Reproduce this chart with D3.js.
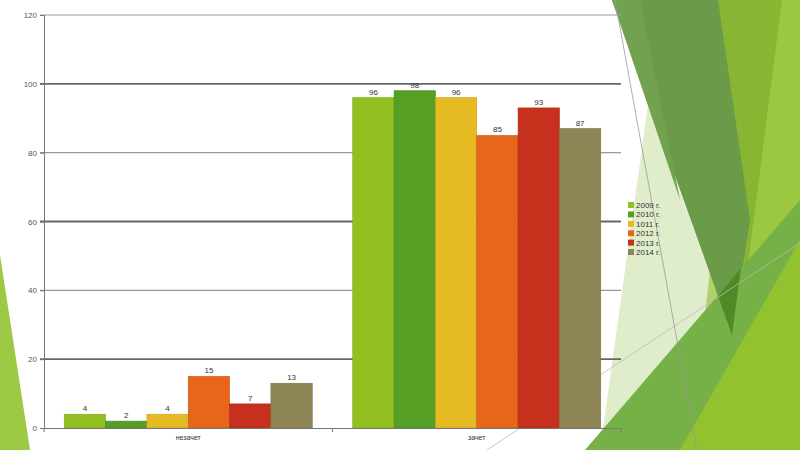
<!DOCTYPE html>
<meta charset="utf-8">
<head>
  <title>Зачет / незачет</title>
  <style>
    html, body { margin: 0; padding: 0; background: #fff; }
    svg { display: block; font-family: "Liberation Sans", Arial, sans-serif; }
  </style>
</head>
<body>
  <div class="container"></div>

<script src="https://cdnjs.cloudflare.com/ajax/libs/d3/7.8.5/d3.min.js"></script>
<script>
  // Chart data
  var categories = ["незачет", "зачет"];
  var years = ["2009 г.", "2010 г.", "1011 г.", "2012 г.", "2013 г.", "2014 г."];
  var failValues = [4, 2, 4, 15, 7, 13];
  var passValues = [96, 98, 96, 85, 93, 87];
  var yTicks = [0, 20, 40, 60, 80, 100, 120];
  var colors = ["#92c020", "#55a024", "#e6ba22", "#e8661b", "#c6301c", "#8e8657"];

  var width = 800, height = 450;
  var plotLeft = 44, plotRight = 621, plotTop = 15, plotBottom = 428;

  var svg = d3.select(".container").append("svg")
    .attr("width", width)
    .attr("height", height);

  // background decoration (theme shapes)
  var deco = svg.append("g");
  function shape(pts, fill, op) {
    deco.append("polygon")
      .attr("points", pts.map(function (p) { return p.join(","); }).join(" "))
      .attr("fill", fill)
      .attr("opacity", op || 1);
  }
  shape([[0, 255], [30, 450], [0, 450]], "#9dc843");
  shape([[740, 0], [800, 0], [800, 450], [690, 450]], "#9cc741");
  shape([[716, 0], [782, 0], [735, 365]], "#88b532");
  shape([[648, 105], [600, 450], [775, 450]], "#c2dc95", 0.5);
  shape([[612, 0], [718, 0], [750, 220], [732, 335]], "#6b9a49");
  shape([[612, 0], [640, 0], [680, 200]], "#72a150");
  shape([[585, 450], [800, 200], [800, 450]], "#76b148");
  shape([[680, 450], [800, 240], [800, 450]], "#93c22f");
  shape([[718, 296], [741, 268], [732, 335]], "#4e8a26");
  deco.append("line").attr("x1", 615).attr("y1", 0).attr("x2", 697).attr("y2", 450)
    .attr("stroke", "#999").attr("stroke-width", 0.8);
  deco.append("line").attr("x1", 487).attr("y1", 450).attr("x2", 800).attr("y2", 243)
    .attr("stroke", "#bbb").attr("stroke-width", 0.8);

  // scales
  var x0 = d3.scaleBand().domain(categories).range([plotLeft, plotRight]);
  var x1 = d3.scaleBand().domain(years).range([0, x0.bandwidth()]).paddingOuter(0.49);
  var y = d3.scaleLinear().domain([0, 120]).range([plotBottom, plotTop]);

  // grid lines
  svg.append("g").selectAll("line")
    .data(yTicks.slice(1))
    .enter().append("line")
    .attr("x1", plotLeft - 4).attr("x2", plotRight)
    .attr("y1", function (d) { return y(d); })
    .attr("y2", function (d) { return y(d); })
    .attr("stroke", function (d) { return d % 40 === 20 ? "#666" : "#999"; })
    .attr("stroke-width", function (d) { return d % 40 === 20 ? 1.8 : 1.1; });

  // y axis
  var yAxis = svg.append("g")
    .attr("transform", "translate(" + plotLeft + ",0)")
    .call(d3.axisLeft(y).tickValues(yTicks).tickSize(4).tickPadding(3));
  yAxis.select(".domain").attr("stroke", "#777");
  yAxis.selectAll(".tick line").attr("stroke", "#777");
  yAxis.selectAll("text").attr("font-size", 8).attr("fill", "#555");

  // bars
  var series = categories.map(function (c, i) {
    var vals = i === 0 ? failValues : passValues;
    return { cat: c, items: years.map(function (yr, j) { return { year: yr, value: vals[j], color: colors[j] }; }) };
  });

  var groups = svg.append("g").selectAll("g")
    .data(series)
    .enter().append("g")
    .attr("transform", function (d) { return "translate(" + x0(d.cat) + ",0)"; });

  groups.selectAll("rect")
    .data(function (d) { return d.items; })
    .enter().append("rect")
    .attr("x", function (d) { return x1(d.year); })
    .attr("width", x1.bandwidth())
    .attr("y", function (d) { return y(d.value); })
    .attr("height", function (d) { return y(0) - y(d.value); })
    .attr("fill", function (d) { return d.color; })
    .attr("stroke", function (d) { return d3.color(d.color).darker(0.4); })
    .attr("stroke-width", 0.6);

  groups.selectAll("text")
    .data(function (d) { return d.items; })
    .enter().append("text")
    .attr("x", function (d) { return x1(d.year) + x1.bandwidth() / 2; })
    .attr("y", function (d) { return y(d.value) - 3; })
    .attr("text-anchor", "middle")
    .attr("font-size", 8)
    .attr("fill", "#333")
    .text(function (d) { return d.value; });

  // x axis
  var xAxis = svg.append("g")
    .attr("transform", "translate(0," + plotBottom + ")")
    .call(d3.axisBottom(x0).tickSize(0).tickPadding(7));
  xAxis.select(".domain").attr("stroke", "#777");
  xAxis.selectAll("text").attr("font-size", 7).attr("fill", "#333");
  svg.append("g").selectAll("line")
    .data([plotLeft, x0(categories[1]), plotRight])
    .enter().append("line")
    .attr("x1", function (d) { return d; }).attr("x2", function (d) { return d; })
    .attr("y1", plotBottom).attr("y2", plotBottom + 4)
    .attr("stroke", "#777");

  // legend
  var legend = svg.append("g")
    .attr("transform", "translate(628,202)");
  var rows = legend.selectAll("g")
    .data(years)
    .enter().append("g")
    .attr("transform", function (d, i) { return "translate(0," + (i * 9.4) + ")"; });
  rows.append("rect")
    .attr("width", 6).attr("height", 6)
    .attr("fill", function (d, i) { return colors[i]; });
  rows.append("text")
    .attr("x", 8).attr("y", 6)
    .attr("font-size", 8)
    .attr("fill", "#333")
    .text(function (d) { return d; });
</script>
</body>
